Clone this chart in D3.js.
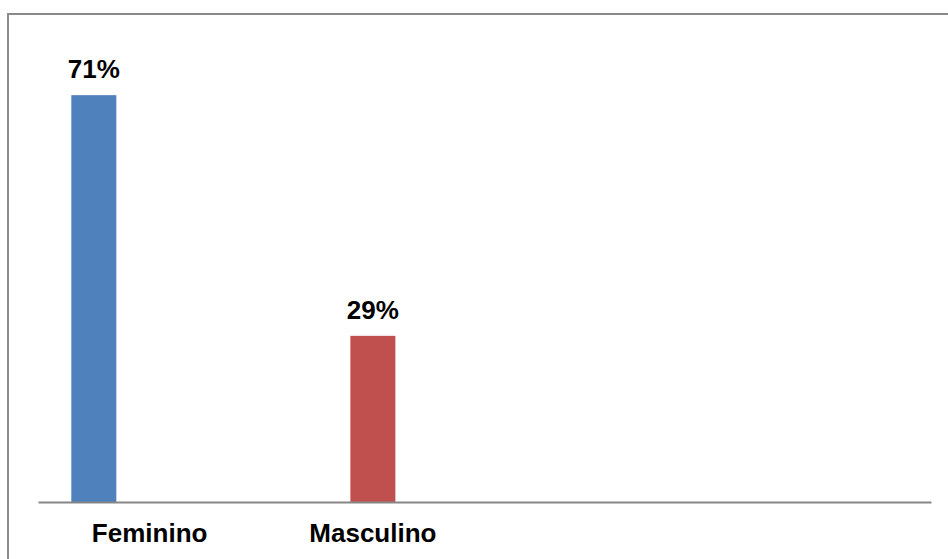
<!DOCTYPE html>
<html>
<head>
<meta charset="utf-8">
<script src="https://cdn.jsdelivr.net/npm/d3@7"></script>
<style>
  html, body { margin: 0; padding: 0; background: #fff; }
  svg { display: block; }
  text { font-family: "Liberation Sans", Arial, sans-serif; font-weight: bold; fill: #000; }
</style>
</head>
<body>
<svg id="chart" width="948" height="559"></svg>
<script>
// ---- data ----
const categories = ["Feminino", "Masculino", "", ""];
const seriesNames = ["Feminino", "Masculino"];
const seriesValues = [71, 29];
const valueLabels = ["71%", "29%"];
const seriesColors = ["#4F81BD", "#C0504D"];

// ---- layout ----
const W = 948, H = 559;
const plot = { left: 38, right: 931, top: 0, bottom: 502 };
const svg = d3.select("#chart");

// outer frame (right and bottom sides fall outside the picture)
svg.append("rect")
  .attr("x", 8).attr("y", 14)
  .attr("width", 980).attr("height", 600)
  .attr("fill", "none").attr("stroke", "#8a8a8a").attr("stroke-width", 2);

const x = d3.scaleBand()
  .domain(d3.range(categories.length))
  .range([plot.left, plot.right])
  .padding(0);

const y = d3.scaleLinear().domain([0, 100]).range([plot.bottom, plot.bottom - 573]);

// bar centre positions within the category band (fraction of band)
const barFrac = [0.25, 0.5];
const barW = 45;
const barIdx = [0, 1];

const bars = seriesValues.map((v, i) => ({
  name: seriesNames[i], value: v, label: valueLabels[i], color: seriesColors[i],
  cx: x(barIdx[i]) + x.bandwidth() * barFrac[i]
}));

svg.selectAll("rect.bar").data(bars).enter().append("rect")
  .attr("class", "bar")
  .attr("x", d => d.cx - barW / 2)
  .attr("width", barW)
  .attr("y", d => y(d.value))
  .attr("height", d => y(0) - y(d.value))
  .attr("fill", d => d.color);

svg.selectAll("text.val").data(bars).enter().append("text")
  .attr("class", "val")
  .attr("x", d => d.cx)
  .attr("y", d => y(d.value) - 17)
  .attr("text-anchor", "middle")
  .attr("font-size", 26)
  .text(d => d.label);

// category axis
const xAxis = d3.axisBottom(x).tickSize(0).tickPadding(0).tickFormat(i => categories[i]);
const gx = svg.append("g").attr("transform", `translate(0,${plot.bottom})`).call(xAxis);
gx.select(".domain").attr("stroke", "#868686").attr("stroke-width", 2);
gx.selectAll(".tick text")
  .attr("dy", 0)
  .attr("y", 40)
  .attr("font-size", 26)
  .attr("font-family", "Liberation Sans, Arial, sans-serif")
  .attr("font-weight", "bold")
  .attr("fill", "#000");
</script>
</body>
</html>
